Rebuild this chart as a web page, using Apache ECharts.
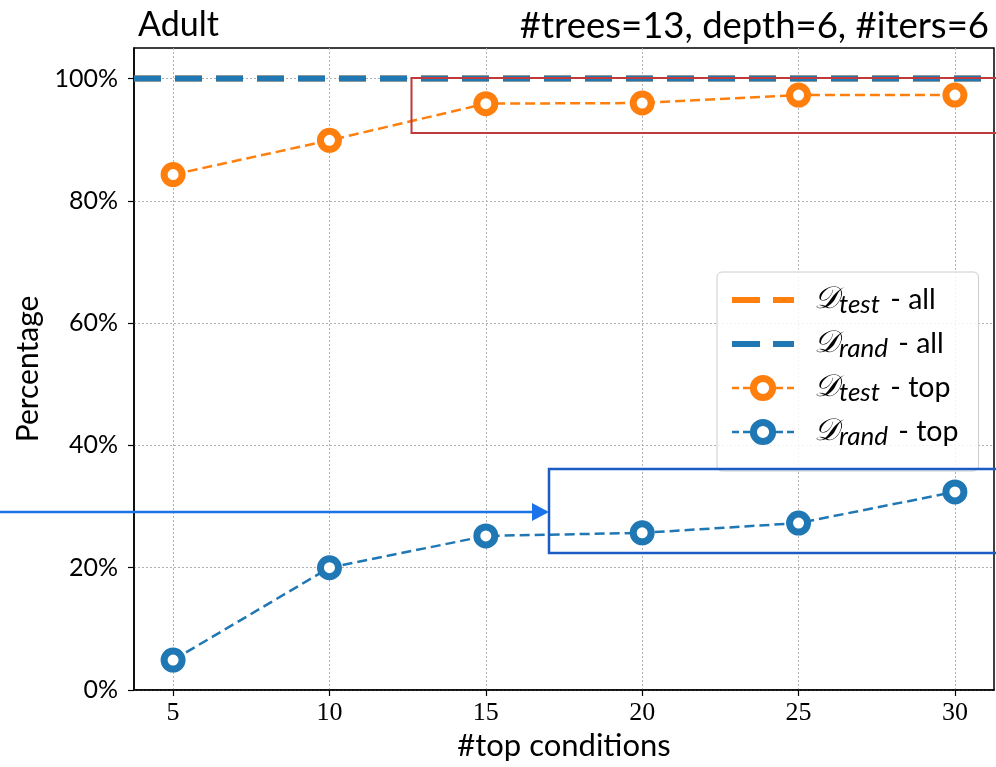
<!DOCTYPE html>
<html>
<head>
<meta charset="utf-8">
<script src="https://cdn.jsdelivr.net/npm/echarts@6/dist/echarts.min.js"></script>
<style>
  html, body { margin: 0; padding: 0; background: #fff; }
  #chart { width: 996px; height: 767px; }
</style>
</head>
<body>
<div id="chart"></div>
<script>
// values
const topConditions = [5, 10, 15, 20, 25, 30];
const testTop = [84.3, 89.9, 95.9, 96.0, 97.3, 97.3];
const randTop = [4.9, 20.0, 25.2, 25.7, 27.3, 32.4];
const testAll = 100;
const randAll = 100;
const xTicks = [5, 10, 15, 20, 25, 30];
const yTicks = [0, 20, 40, 60, 80, 100];

const ORANGE = "#ff7f0e";
const BLUE = "#1f77b4";
const SANS = "Lato";
const SERIF = "Liberation Serif";

const xMin = 3.75;
const xMax = 31.25;

const legendText = {
  "test-all": "{d|𝒟}{s|test}{n| - all}",
  "rand-all": "{d|𝒟}{s|rand}{n| - all}",
  "test-top": "{d|𝒟}{s|test}{n| - top}",
  "rand-top": "{d|𝒟}{s|rand}{n| - top}",
};

const chart = echarts.init(document.getElementById("chart"));

const allLine = (name, value, color) => ({
  name,
  type: "line",
  data: [[xMin, value], [xMax, value]],
  symbol: "circle",
  showSymbol: false,
  lineStyle: { color, width: 6, type: [27, 14] },
  itemStyle: { color },
  z: 2,
});

const topLine = (name, values, color) => ({
  name,
  type: "line",
  data: topConditions.map((x, i) => [x, values[i]]),
  symbol: "circle",
  symbolSize: 18,
  lineStyle: { color, width: 2.5, type: [10, 5] },
  itemStyle: { color: "#fff", borderColor: color, borderWidth: 7, opacity: 1 },
  z: 3,
});

chart.setOption({
  animation: false,
  title: [
    {
      text: "Adult",
      left: 133,
      top: 3,
      textStyle: { fontFamily: SANS, fontSize: 34, fontWeight: "normal", color: "#000" },
    },
    {
      text: "#trees=13, depth=6, #iters=6",
      right: 2,
      top: 3,
      textStyle: { fontFamily: SANS, fontSize: 36.5, fontWeight: "normal", color: "#000" },
    },
  ],
  grid: {
    left: 134,
    right: 2,
    top: 48,
    bottom: 77,
    show: true,
    borderColor: "#000",
    borderWidth: 1.5,
  },
  legend: {
    orient: "vertical",
    left: 717,
    top: 272,
    padding: [10, 20, 21, 12],
    itemWidth: 62,
    itemHeight: 24,
    itemGap: 8,
    backgroundColor: "rgba(255,255,255,0.85)",
    borderColor: "#cccccc",
    borderWidth: 1,
    borderRadius: 5,
    data: [
      { name: "test-all", itemStyle: { opacity: 0 }, lineStyle: { color: ORANGE, width: 6, type: [28, 13] } },
      { name: "rand-all", itemStyle: { opacity: 0 }, lineStyle: { color: BLUE, width: 6, type: [28, 13] } },
      { name: "test-top", itemStyle: { color: "#fff", borderColor: ORANGE, borderWidth: 7 }, lineStyle: { color: ORANGE, width: 2.5, type: [7, 4] } },
      { name: "rand-top", itemStyle: { color: "#fff", borderColor: BLUE, borderWidth: 7 }, lineStyle: { color: BLUE, width: 2.5, type: [7, 4] } },
    ],
    formatter: (name) => legendText[name],
    textStyle: {
      color: "#000",
      rich: {
        d: { fontFamily: "DejaVu Serif", fontStyle: "italic", fontSize: 31, lineHeight: 30, padding: [0, 0, 0, 15], color: "#000" },
        s: { fontFamily: SANS, fontStyle: "italic", fontSize: 26, lineHeight: 26, padding: [10, 3, 0, 0], color: "#000" },
        n: { fontFamily: SANS, fontSize: 28.5, lineHeight: 30, color: "#000" },
      },
    },
  },
  xAxis: {
    type: "value",
    min: xMin,
    max: xMax,
    name: "#top conditions",
    nameLocation: "middle",
    nameGap: 40,
    nameTextStyle: { fontFamily: SANS, fontSize: 31, color: "#000" },
    axisLine: { lineStyle: { color: "#000", width: 1.5 } },
    axisTick: { customValues: xTicks, length: 6, lineStyle: { color: "#000", width: 1.2 } },
    axisLabel: { customValues: xTicks, fontFamily: SERIF, fontSize: 26, color: "#000", margin: 10 },
    splitLine: { show: true, lineStyle: { color: "#b0b0b0", width: 1, type: [2, 2] } },
  },
  yAxis: {
    type: "value",
    min: 0,
    max: 105,
    name: "Percentage",
    nameLocation: "middle",
    nameGap: 89,
    nameTextStyle: { fontFamily: SANS, fontSize: 30, color: "#000" },
    axisLine: { lineStyle: { color: "#000", width: 1.5 } },
    axisTick: { customValues: yTicks, length: 6, lineStyle: { color: "#000", width: 1.2 } },
    axisLabel: { customValues: yTicks, formatter: "{value}%", fontFamily: SANS, fontSize: 25, color: "#000", margin: 16 },
    splitLine: { show: true, lineStyle: { color: "#b0b0b0", width: 1, type: [2, 2] } },
  },
  series: [
    allLine("test-all", testAll, ORANGE),
    allLine("rand-all", randAll, BLUE),
    topLine("test-top", testTop, ORANGE),
    topLine("rand-top", randTop, BLUE),
  ],
  graphic: [
    {
      type: "rect",
      shape: { x: 411.5, y: 78, width: 600, height: 55 },
      style: { fill: "none", stroke: "#c0393b", lineWidth: 2 },
      z: 10,
    },
    {
      type: "rect",
      shape: { x: 549, y: 469, width: 600, height: 84 },
      style: { fill: "none", stroke: "#1a5cc4", lineWidth: 2.5 },
      z: 10,
    },
    {
      type: "line",
      shape: { x1: 0, y1: 512, x2: 534, y2: 512 },
      style: { stroke: "#1a73e8", lineWidth: 2.5 },
      z: 10,
    },
    {
      type: "polygon",
      shape: { points: [[532, 503], [549, 512], [532, 521]] },
      style: { fill: "#1a73e8" },
      z: 10,
    },
  ],
});
</script>
</body>
</html>
